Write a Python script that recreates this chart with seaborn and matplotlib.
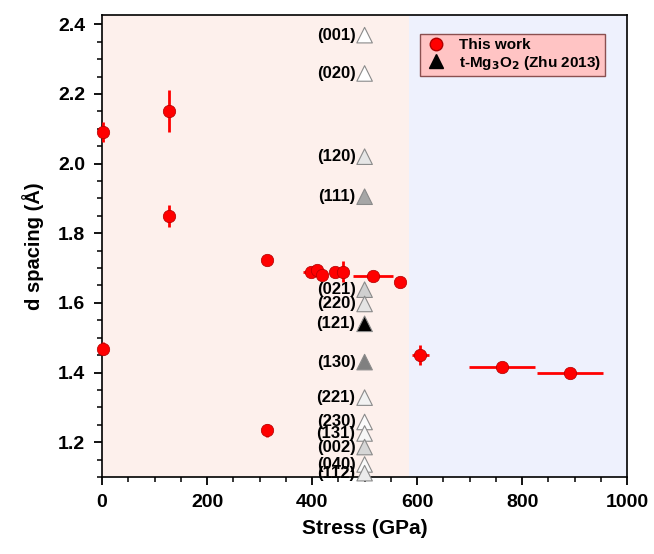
import numpy as np
import pandas as pd
import matplotlib
matplotlib.use("Agg")
import matplotlib.pyplot as plt
from matplotlib.lines import Line2D
from matplotlib.ticker import MultipleLocator, FormatStrFormatter
import seaborn as sns

# ---- data ----
stress = [2, 2, 128, 128, 314, 314, 397, 409, 418, 444, 458, 516, 568, 606, 761, 891]
d_spacing = [2.091, 1.469, 2.152, 1.850, 1.724, 1.234, 1.690, 1.695, 1.680, 1.690,
             1.690, 1.676, 1.661, 1.450, 1.415, 1.399]
stress_err = [0, 0, 0, 0, 0, 0, 14, 0, 0, 0, 0, 38, 0, 16, 63, 63]
d_err = [0.03, 0.018, 0.06, 0.031, 0, 0.019, 0, 0, 0, 0, 0.03, 0, 0, 0.029, 0.01, 0.005]

ref_labels = ["(001)", "(020)", "(120)", "(111)", "(021)", "(220)", "(121)", "(130)",
              "(221)", "(230)", "(131)", "(002)", "(040)", "(112)"]
ref_d = [2.369, 2.259, 2.020, 1.905, 1.638, 1.597, 1.540, 1.430,
         1.328, 1.258, 1.225, 1.186, 1.136, 1.111]
ref_stress = [500] * len(ref_labels)
ref_fill = ["#ffffff", "#ffffff", "#e6e6e6", "#a6a6a6", "#d0d0d0", "#e4e4e4", "#000000",
            "#808080", "#f2f2f2", "#fbfbfb", "#f6f6f6", "#d6d6d6", "#fafafa", "#ebebeb"]

df = pd.DataFrame({"stress": stress, "d": d_spacing})
ref = pd.DataFrame({"stress": ref_stress, "d": ref_d, "hkl": ref_labels})

sns.set_theme(style="ticks")
plt.rcParams["font.family"] = ["Liberation Sans", "DejaVu Sans"]
plt.rcParams["font.weight"] = "bold"
plt.rcParams["text.color"] = "black"
plt.rcParams["axes.labelcolor"] = "black"
plt.rcParams["xtick.color"] = "black"
plt.rcParams["ytick.color"] = "black"

fig = plt.figure(figsize=(6.54, 5.54), dpi=100)
ax = fig.add_axes([0.156, 0.139, 0.803, 0.834])

ax.axvspan(0, 585, color="#fdf0ec", zorder=0, lw=0)
ax.axvspan(585, 1000, color="#eef1fd", zorder=0, lw=0)

# reference triangles
sns.scatterplot(data=ref, x="stress", y="d", hue="hkl",
                palette=dict(zip(ref_labels, ref_fill)), marker="^", s=125,
                edgecolor="#8a8a8a", linewidth=0.8, legend=False, ax=ax,
                zorder=3, clip_on=False)
for lab, yv, xv in zip(ref_labels, ref_d, ref_stress):
    ax.annotate(lab, (xv, yv), xytext=(-6.5, 0), textcoords="offset points",
                ha="right", va="center", fontsize=12, fontweight="bold",
                color="black", zorder=4, annotation_clip=False)

# this work
ax.errorbar(stress, d_spacing, xerr=stress_err, yerr=d_err, fmt="none",
            ecolor="#ff0000", elinewidth=2.0, capsize=0, zorder=4, clip_on=False)
sns.scatterplot(data=df, x="stress", y="d", color="#ff0000", s=80,
                edgecolor="#b00000", linewidth=0.5, ax=ax, zorder=5,
                legend=False, clip_on=False)

ax.set_xlim(0, 1000)
ax.set_ylim(1.10, 2.427)
ax.xaxis.set_major_locator(MultipleLocator(200))
ax.xaxis.set_minor_locator(MultipleLocator(50))
ax.yaxis.set_major_locator(MultipleLocator(0.2))
ax.yaxis.set_minor_locator(MultipleLocator(0.05))
ax.yaxis.set_major_formatter(FormatStrFormatter("%.1f"))
ax.tick_params(which="major", direction="out", length=6, width=1.3,
               labelsize=14, pad=6)
ax.tick_params(which="minor", direction="out", length=3.5, width=1.1)
for lab in ax.get_xticklabels() + ax.get_yticklabels():
    lab.set_fontweight("bold")
for sp in ax.spines.values():
    sp.set_linewidth(1.2)
    sp.set_color("black")
    sp.set_visible(True)

ax.set_xlabel("Stress (GPa)", fontsize=15, fontweight="bold", labelpad=6)
ax.set_ylabel("d spacing (Å)", fontsize=14.5, fontweight="bold", labelpad=10)

handles = [
    Line2D([], [], marker="o", linestyle="none", color="#ff0000",
           markeredgecolor="#b00000", markersize=9),
    Line2D([], [], marker="^", linestyle="none", color="black", markersize=10),
]
leg = ax.legend(handles, ["This work", "t-Mg$_3$O$_2$ (Zhu 2013)"],
                loc="upper right", bbox_to_anchor=(0.958, 0.958), frameon=True,
                fancybox=False, fontsize=11, handletextpad=0.8,
                borderpad=0.25, labelspacing=0.1, handlelength=1.5,
                borderaxespad=0)
fr = leg.get_frame()
fr.set_facecolor("#ffc4c4")
fr.set_edgecolor("#8a5050")
fr.set_alpha(1)
fr.set_linewidth(1.0)
for t in leg.get_texts():
    t.set_fontweight("bold")

fig.savefig("out.png", dpi=100)
